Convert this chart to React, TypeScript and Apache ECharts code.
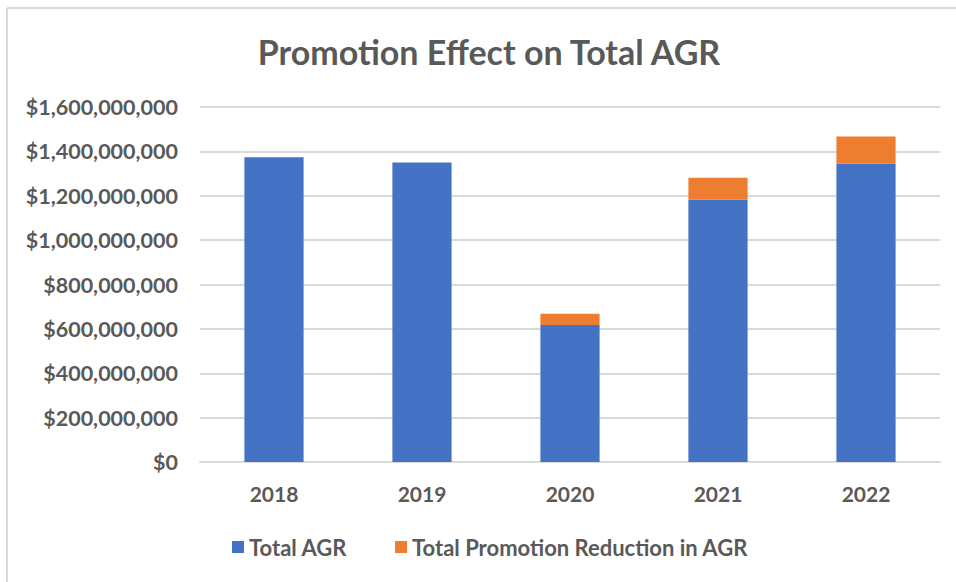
import React, { useEffect, useRef } from "react";
import * as echarts from "echarts";

const categories = ["2018", "2019", "2020", "2021", "2022"];
const totalAGR = [1374000000, 1350000000, 617000000, 1183000000, 1345000000];
const promotionReduction = [0, 0, 51000000, 98000000, 122000000];
const yTicks = { min: 0, max: 1600000000, interval: 200000000 };

const FONT = "Lato";
const TEXT = "#595959";
const GRID = "#d9d9d9";

export default function App() {
  const ref = useRef<HTMLDivElement>(null);
  useEffect(() => {
    if (!ref.current) return;
    const chart = echarts.init(ref.current, undefined, { renderer: "svg" });
    chart.setOption({
      animation: false,
      backgroundColor: "#ffffff",
      textStyle: { fontFamily: FONT },
      title: {
        text: "Promotion Effect on Total AGR",
        left: 489,
        top: 34,
        padding: 0,
        textAlign: "center",
        textStyle: { fontFamily: FONT, fontSize: 34, fontWeight: "bold", color: TEXT },
      },
      legend: {
        left: 232,
        top: 536,
        padding: 0,
        itemWidth: 12,
        itemHeight: 12,
        itemGap: 48,
        icon: "rect",
        textStyle: { fontFamily: FONT, fontSize: 22, fontWeight: "bold", color: TEXT },
        data: ["Total AGR", "Total Promotion Reduction in AGR"],
      },
      grid: { left: 200, right: 16, top: 107, bottom: 120, containLabel: false },
      xAxis: {
        type: "category",
        data: categories,
        axisLine: { show: true, lineStyle: { color: GRID, width: 2 } },
        axisTick: { show: false },
        axisLabel: { margin: 21, fontFamily: FONT, fontSize: 21, fontWeight: "bold", color: TEXT },
      },
      yAxis: {
        type: "value",
        min: yTicks.min,
        max: yTicks.max,
        interval: yTicks.interval,
        axisLine: { show: false },
        axisTick: { show: false },
        splitLine: { lineStyle: { color: GRID, width: 2 } },
        axisLabel: {
          margin: 22,
          fontFamily: FONT,
          fontSize: 21.5,
          fontWeight: "bold",
          color: TEXT,
          formatter: (v: number) => "$" + v.toLocaleString("en-US"),
        },
      },
      series: [
        {
          name: "Total AGR",
          type: "bar",
          stack: "agr",
          data: totalAGR,
          barCategoryGap: "60%",
          itemStyle: { color: "#4472C4" },
        },
        {
          name: "Total Promotion Reduction in AGR",
          type: "bar",
          stack: "agr",
          data: promotionReduction,
          barCategoryGap: "60%",
          itemStyle: { color: "#ED7D31" },
        },
      ],
      graphic: [
        { type: "line", shape: { x1: 7, y1: 8, x2: 956, y2: 8 }, style: { stroke: GRID, lineWidth: 2 } },
        { type: "line", shape: { x1: 7, y1: 8, x2: 7, y2: 582 }, style: { stroke: GRID, lineWidth: 2 } },
      ],
    });
    return () => chart.dispose();
  }, []);
  return (
    <div
      ref={ref}
      style={{ position: "fixed", left: 0, top: 0, width: 956, height: 582, background: "#fff" }}
    />
  );
}
